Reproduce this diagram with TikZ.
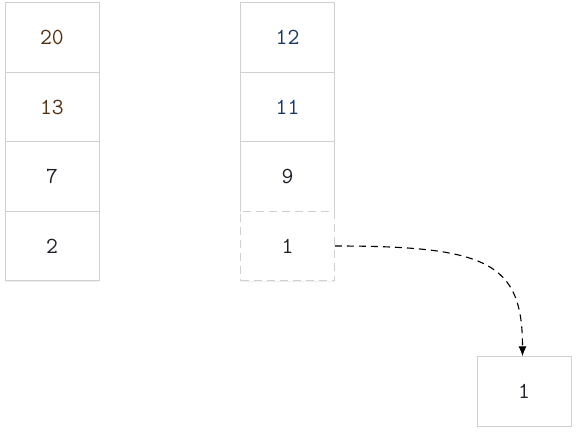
\documentclass[tikz,border=0pt]{standalone}
\usepackage{fontspec}
\usetikzlibrary{shadows,arrows.meta}
\definecolor{cellgray}{RGB}{208,208,210}
\definecolor{numbrown}{RGB}{85,50,20}
\definecolor{numblue}{RGB}{25,55,105}
\definecolor{numdark}{RGB}{30,32,40}
\begin{document}
\begin{tikzpicture}
    \tikzstyle{line} = [->,>={Latex[length=10pt,width=8pt]}, line width=1.1pt,
    dash pattern=on 7pt off 5pt]
    \tikzstyle{cell} = [rectangle, draw=cellgray, line width=0.9pt, fill=white,
    minimum width=94pt, minimum height=69.5pt, font=\ttfamily\fontsize{23}{25}\selectfont,
    drop shadow={opacity=0.12, shadow xshift=0pt, shadow yshift=-1.2pt}]

    \useasboundingbox (0,0) rectangle (576pt,434pt);

    % left stack
    \node(l1) [cell, text=numbrown] at (52pt,396.5pt) {20};
    \node(l2) [cell, text=numbrown, below of=l1, node distance=69.5pt] {13};
    \node(l3) [cell, text=numdark, below of=l2, node distance=69.5pt] {7};
    \node(l4) [cell, text=numdark, below of=l3, node distance=69.5pt] {2};

    % right stack
    \node(r1) [cell, text=numblue] at (287.5pt,396.5pt) {12};
    \node(r2) [cell, text=numblue, below of=r1, node distance=69.5pt] {11};
    \node(r3) [cell, text=numdark, below of=r2, node distance=69.5pt] {9};
    \node(r4) [cell, text=numdark, dash pattern=on 8pt off 5pt, below of=r3,
    node distance=69.5pt] {1};

    % popped element
    \node(popped) [cell, text=numdark] at (524pt,42.5pt) {1};

    \draw[line] (r4.east) to[out=0, in=90, out looseness=1.8, in looseness=1.1]
    ([xshift=-1.5pt]popped.north);
\end{tikzpicture}
\end{document}
